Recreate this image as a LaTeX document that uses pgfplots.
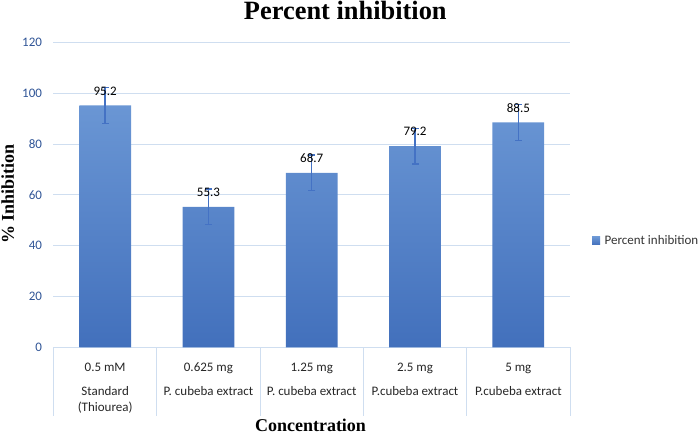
\documentclass[border=0pt]{standalone}
\usepackage{fontspec}
\setmainfont{Carlito}
\newfontfamily\timesfont{Liberation Serif}
\usepackage{pgfplots}
\pgfplotsset{compat=1.18}
\definecolor{bartop}{RGB}{106,150,212}
\definecolor{barbot}{RGB}{66,112,188}
\definecolor{gridc}{RGB}{207,222,240}
\definecolor{tickblue}{RGB}{47,84,150}
\definecolor{errblue}{RGB}{68,114,196}
\begin{document}
\begin{tikzpicture}
\useasboundingbox (-53.5pt,-87.5pt) rectangle (645.5pt,347.5pt);
\begin{axis}[
  at={(0pt,0pt)}, anchor=south west,
  scale only axis, width=516.5pt, height=305.2pt,
  ybar, bar width=51.7pt,
  xmin=-0.5, xmax=4.5, ymin=0, ymax=120,
  ytick={0,20,...,120},
  xtick={0,1,2,3,4},
  xticklabels={{0.5 mM\\[7.7pt]Standard\\(Thiourea)},
               {0.625 mg\\[7.7pt]P. cubeba extract},
               {1.25 mg\\[7.7pt]P. cubeba extract},
               {2.5 mg\\[7.7pt]P.cubeba extract},
               {5 mg\\[7.7pt]P.cubeba extract}},
  xticklabel style={align=center, font=\fontsize{13}{16.3}\selectfont, text=black!85, anchor=north, yshift=-12pt},
  yticklabel style={font=\fontsize{13}{15}\selectfont, text=tickblue, xshift=-8pt},
  /pgf/number format/assume math mode=true,
  major tick length=0pt,
  extra x ticks={-0.5,0.5,1.5,2.5,3.5,4.5},
  extra x tick labels={},
  extra x tick style={major tick length=68.5pt, tick align=outside, tick pos=bottom, major tick style={draw=gridc, line width=0.8pt}, grid=none},
  ymajorgrids=true,
  grid style={draw=gridc, line width=0.8pt},
  axis line style={draw=none},
  title={\timesfont\bfseries\fontsize{26.4}{30}\selectfont Percent inhibition},
  title style={at={(0.565,1)}, anchor=base, yshift=16.8pt},
  ylabel={\timesfont\bfseries\fontsize{18}{20}\selectfont \% Inhibition},
  ylabel style={at={(axis description cs:0,0.503)}, anchor=base, yshift=39.5pt},
  xlabel={\timesfont\bfseries\fontsize{18}{20}\selectfont Concentration},
  xlabel style={at={(axis description cs:0.4976,0)}, anchor=base, yshift=-84pt},
  nodes near coords={\pgfmathprintnumber[fixed,fixed zerofill,precision=1,assume math mode=true]{\pgfplotspointmeta}},
  nodes near coords style={font=\fontsize{13}{15}\selectfont, text=black, anchor=south, yshift=6.5pt},
  legend style={draw=none, fill=none, at={(1,0.349)}, anchor=west, xshift=19pt, font=\fontsize{13}{15}\selectfont, text=black!80, legend cell align=left},
  legend image code/.code={\fill[barbot] (0pt,-4pt) rectangle (8pt,4pt); \path (10.5pt,0pt);},
]
\addplot[draw=none, top color=bartop, bottom color=barbot,
  error bars/.cd, y dir=both, y explicit,
  error bar style={draw=errblue, line width=1.3pt},
  error mark options={rotate=90, mark size=3.5pt, draw=errblue, line width=1.3pt}]
  coordinates {(0,95.2) +- (0,7) (1,55.3) +- (0,7) (2,68.7) +- (0,7) (3,79.2) +- (0,7) (4,88.5) +- (0,7)};
\addlegendentry{Percent inhibition}
\end{axis}
\end{tikzpicture}
\end{document}
